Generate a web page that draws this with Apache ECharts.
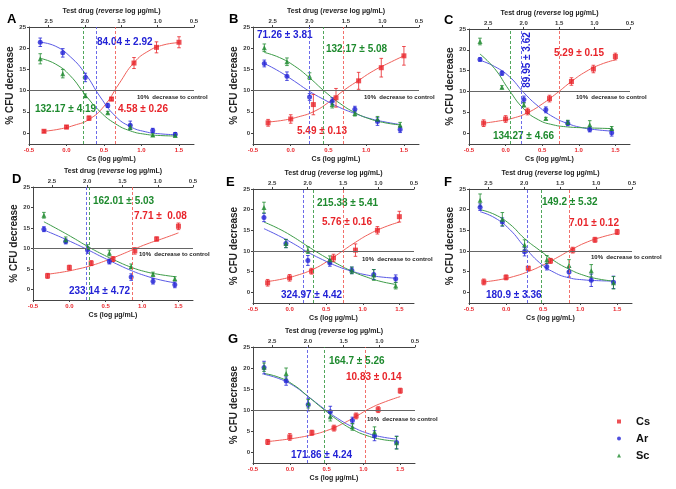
<!DOCTYPE html>
<html>
<head>
<meta charset="utf-8">
<script src="https://cdn.jsdelivr.net/npm/echarts@6/dist/echarts.min.js"></script>
<style>
  html, body { margin: 0; padding: 0; background: #fff; }
  #chart { width: 676px; height: 489px; }
</style>
</head>
<body>
<div id="chart"></div>
<script>
// 7 panels (A-G): % CFU decrease vs Cs / test drug concentration
var panelNames = ['A', 'B', 'C', 'D', 'E', 'F', 'G'];
var csX = [-0.3, 0, 0.3, 0.6, 0.9, 1.2, 1.5];
var drugX = [-0.35, -0.05, 0.25, 0.55, 0.85, 1.15, 1.45];
var csFitX = [-0.3, -0.1, 0.1, 0.3, 0.5, 0.7, 0.9, 1.1, 1.3, 1.5];
var drugFitX = [-0.35, -0.15, 0.05, 0.25, 0.45, 0.65, 0.85, 1.05, 1.25, 1.45];
var bottomTicks = [-0.5, 0, 0.5, 1.0, 1.5];
var topTicks = [2.5, 2.0, 1.5, 1.0, 0.5];
var yTicks = [0, 5, 10, 15, 20, 25];

var csMean = [
  [0.4, 1.4, 3.5, 8.0, 16.5, 20.2, 21.4],
  [2.4, 3.3, 6.7, 8.3, 12.3, 15.4, 18.2],
  [2.4, 3.4, 5.2, 8.3, 12.4, 15.4, 18.4],
  [3.3, 5.3, 6.4, 7.4, 9.4, 12.3, 15.4],
  [2.3, 3.5, 5.1, 8.3, 10.2, 15.0, 18.3],
  [2.5, 3.6, 5.8, 7.6, 10.2, 12.7, 14.6],
  [2.4, 3.6, 4.6, 5.7, 8.6, 10.1, 14.6]
];
var csErr = [
  [0.3, 0.4, 0.5, 0.4, 1.3, 1.3, 1.3],
  [0.8, 1.0, 2.4, 2.2, 2.0, 2.2, 2.2],
  [0.8, 0.8, 0.8, 0.8, 0.9, 0.9, 0.8],
  [0.6, 0.6, 0.6, 0.6, 0.8, 0.5, 0.8],
  [0.8, 0.8, 0.7, 0.9, 1.5, 0.9, 1.3],
  [0.7, 0.6, 0.5, 0.6, 0.7, 0.6, 0.6],
  [0.6, 0.8, 0.6, 0.7, 0.7, 0.7, 0.6]
];
var arMean = [
  [21.4, 18.9, 13.1, 6.5, 1.8, 0.6, -0.3],
  [16.4, 13.4, 8.5, 7.5, 5.6, 2.7, 0.8],
  [17.7, 14.4, 8.1, 5.6, 2.4, 0.9, 0.1],
  [14.7, 11.7, 9.6, 6.8, 3.0, 2.0, 1.1],
  [18.1, 11.8, 7.7, 7.1, 5.3, 4.3, 3.3],
  [20.6, 17.0, 9.8, 6.2, 4.9, 2.9, 2.4],
  [20.1, 16.9, 11.3, 9.6, 7.5, 3.9, 2.3]
];
var arErr = [
  [1.0, 1.0, 1.0, 0.5, 1.0, 0.5, 0.4],
  [0.8, 1.0, 0.8, 0.8, 0.7, 0.9, 0.7],
  [0.4, 0.5, 0.8, 0.7, 0.6, 0.6, 0.8],
  [0.6, 0.6, 0.8, 0.6, 0.8, 0.7, 0.7],
  [1.0, 1.0, 1.2, 0.8, 0.8, 1.2, 0.9],
  [0.8, 1.0, 1.0, 0.8, 1.2, 1.5, 1.5],
  [1.5, 1.0, 1.5, 1.3, 0.8, 1.2, 1.5]
];
var scMean = [
  [17.5, 14.0, 8.8, 4.8, 1.4, -0.5, -0.6],
  [20.1, 16.8, 13.4, 6.7, 4.6, 3.3, 1.9],
  [22.0, 11.0, 6.8, 3.5, 2.6, 2.0, 1.1],
  [18.1, 12.1, 10.3, 8.9, 5.6, 3.7, 2.6],
  [20.5, 11.8, 10.2, 7.9, 5.3, 4.2, 1.6],
  [22.3, 17.7, 11.5, 7.9, 6.5, 5.2, 2.3],
  [20.2, 18.7, 11.5, 8.4, 6.0, 4.8, 2.2]
];
var scErr = [
  [1.2, 1.0, 0.4, 0.3, 0.5, 0.3, 0.3],
  [0.9, 0.9, 0.8, 0.8, 0.6, 0.6, 0.6],
  [0.8, 0.4, 0.5, 0.3, 0.5, 1.0, 0.5],
  [0.7, 0.7, 0.6, 0.7, 0.6, 0.5, 0.5],
  [1.3, 1.0, 0.8, 0.9, 0.8, 1.3, 0.8],
  [1.5, 1.6, 1.2, 1.0, 1.4, 1.5, 1.5],
  [1.0, 1.3, 1.0, 1.0, 0.8, 1.2, 1.5]
];
// fitted curves
var csFit = [
  [0.4, 0.9, 1.8, 3.2, 6.3, 11.6, 16.6, 19.4, 20.8, 21.3],
  [2.6, 3.0, 3.8, 5.0, 7.2, 10.0, 12.4, 14.7, 16.5, 18.2],
  [2.4, 2.9, 3.6, 4.9, 7.0, 9.6, 12.4, 14.8, 16.5, 17.6],
  [3.7, 4.2, 4.9, 5.8, 7.0, 8.4, 9.9, 11.3, 12.5, 13.8],
  [2.6, 3.2, 4.1, 5.4, 7.3, 9.7, 12.1, 14.2, 15.8, 17.0],
  [2.5, 3.0, 3.8, 5.0, 6.6, 8.5, 10.5, 12.2, 13.4, 14.3],
  [2.5, 2.9, 3.4, 4.1, 5.1, 6.6, 8.5, 10.5, 12.0, 13.2]
];
var arFit = [
  [21.4, 20.5, 18.0, 14.0, 8.5, 4.0, 1.5, 0.3, -0.2, -0.4],
  [16.4, 14.5, 12.2, 9.8, 7.8, 6.0, 4.6, 3.4, 2.6, 2.0],
  [17.5, 16.0, 13.6, 9.7, 6.4, 3.9, 2.3, 1.3, 0.8, 0.5],
  [14.5, 13.0, 11.4, 9.7, 7.9, 6.2, 4.6, 3.3, 2.3, 1.6],
  [15.4, 13.7, 11.8, 9.7, 7.9, 6.3, 5.1, 4.2, 3.7, 3.4],
  [19.5, 18.0, 15.2, 11.0, 7.2, 4.8, 3.5, 3.0, 2.8, 2.7],
  [18.5, 17.5, 15.8, 13.2, 10.5, 8.0, 6.0, 4.5, 3.6, 3.1]
];
var scFit = [
  [17.6, 16.3, 13.5, 9.0, 5.0, 2.2, 0.5, -0.3, -0.6, -0.7],
  [19.0, 17.8, 15.8, 13.0, 9.8, 7.0, 4.8, 3.3, 2.4, 1.9],
  [19.0, 15.5, 10.3, 5.8, 3.2, 2.0, 1.5, 1.3, 1.2, 1.1],
  [16.5, 14.6, 12.6, 10.5, 8.6, 6.9, 5.4, 4.3, 3.6, 3.1],
  [17.0, 15.4, 13.4, 11.1, 8.9, 6.9, 5.1, 3.7, 2.6, 1.9],
  [20.0, 18.8, 16.5, 13.0, 10.2, 7.6, 5.6, 4.1, 3.2, 2.7],
  [18.7, 17.8, 16.0, 13.2, 10.3, 7.6, 5.4, 3.9, 3.0, 2.6]
];
// IC10 drop lines (on the Cs axis scale)
var csCut = [0.65, 0.70, 0.736, 0.874, 0.745, 0.851, 1.018];
var arCut = [0.39, 0.243, 0.218, 0.23, 0.18, 0.275, 0.245];
var scCut = [0.223, 0.43, 0.064, 0.276, 0.327, 0.473, 0.473];
var csIC = ['4.58 \u00b1 0.26', '5.49 \u00b1 0.13', '5.29 \u00b1 0.15', '7.71 \u00b1  0.08', '5.76 \u00b1 0.16', '7.01 \u00b1 0.12', '10.83 \u00b1 0.14'];
var arIC = ['84.04 \u00b1 2.92', '71.26 \u00b1 3.81', '89.95 \u00b1 3.62', '233.14 \u00b1 4.72', '324.97 \u00b1 4.42', '180.9 \u00b1 3.36', '171.86 \u00b1 4.24'];
var scIC = ['132.17 \u00b1 4.19', '132.17 \u00b1 5.08', '134.27 \u00b1 4.66', '162.01 \u00b1 5.03', '215.38 \u00b1 5.41', '149.2 \u00b1 5.32', '164.7 \u00b1 5.26'];

var FONT = '"Liberation Sans", Arial, sans-serif';
var RED = '#e8242a', BLUE = '#2323d6', GREEN = '#1e8a2e';

// grid rect + label positions per panel
var layout = [
  { rect: [29, 27, 165, 117], letter: [7, 19], cs: [118, 109], ar: [97, 42], sc: [35, 109], note: [137, 97] },
  { rect: [253, 27, 166, 117], letter: [229, 19], cs: [297, 131], ar: [257, 35], sc: [326, 49], note: [364, 97] },
  { rect: [469, 29, 161, 115], letter: [444, 20], cs: [554, 53], ar: [527, 60], sc: [493, 136], note: [576, 97], arVertical: true },
  { rect: [33, 187, 160, 113], letter: [12, 179], cs: [134, 216], ar: [69, 291], sc: [93, 201], note: [139, 254] },
  { rect: [253, 189, 161, 114], letter: [226, 182], cs: [322, 222], ar: [281, 295], sc: [317, 203], note: [362, 259] },
  { rect: [469, 189, 163, 114], letter: [444, 182], cs: [569, 223], ar: [486, 295], sc: [542, 202], note: [591, 257] },
  { rect: [253, 347, 162, 116], letter: [228, 339], cs: [346, 377], ar: [291, 455], sc: [329, 361], note: [367, 419] }
];

var grids = [], xAxes = [], yAxes = [], series = [], graphics = [];

function pairs(xs, ys) {
  return xs.map(function (x, i) { return [x, ys[i]]; });
}

function addGroup(gi, name, xs, mean, err, fitX, fit, cut, color, fitColor, symbol) {
  var bx = 2 * gi;
  series.push({
    type: 'line', xAxisIndex: bx, yAxisIndex: gi, data: pairs(fitX, fit),
    smooth: 0.5, showSymbol: false, silent: true, z: 2,
    lineStyle: { color: fitColor, width: 1 },
    markLine: {
      symbol: 'none', silent: true, label: { show: false },
      lineStyle: { color: fitColor, width: 0.9, type: [3, 2] },
      data: [{ xAxis: cut }]
    }
  });
  series.push({
    type: 'custom', xAxisIndex: bx, yAxisIndex: gi, silent: true, z: 3,
    data: xs.map(function (x, i) { return [x, mean[i] - err[i], mean[i] + err[i]]; }),
    encode: { x: 0, y: [1, 2] },
    renderItem: function (params, api) {
      var lo = api.coord([api.value(0), api.value(1)]);
      var hi = api.coord([api.value(0), api.value(2)]);
      var st = { stroke: color, lineWidth: 0.8 };
      return {
        type: 'group', children: [
          { type: 'line', shape: { x1: lo[0], y1: lo[1], x2: hi[0], y2: hi[1] }, style: st },
          { type: 'line', shape: { x1: lo[0] - 1.8, y1: lo[1], x2: lo[0] + 1.8, y2: lo[1] }, style: st },
          { type: 'line', shape: { x1: hi[0] - 1.8, y1: hi[1], x2: hi[0] + 1.8, y2: hi[1] }, style: st }
        ]
      };
    }
  });
  series.push({
    type: 'scatter', name: name, xAxisIndex: bx, yAxisIndex: gi, z: 4,
    data: pairs(xs, mean), symbol: symbol, symbolSize: 5,
    itemStyle: { color: color }
  });
}

function txt(x, y, s, color, size, extra) {
  var el = {
    type: 'text', x: x, y: y, silent: true,
    style: { text: s, fill: color, font: 'bold ' + size + 'px ' + FONT, textAlign: 'left', textVerticalAlign: 'middle' }
  };
  if (extra) {
    for (var k in extra) el[k] = extra[k];
  }
  return el;
}

layout.forEach(function (p, i) {
  grids.push({ left: p.rect[0], top: p.rect[1], width: p.rect[2], height: p.rect[3] });
  xAxes.push({
    type: 'value', gridIndex: i, position: 'bottom', min: -0.5, max: 1.7,
    axisLine: { onZero: false, lineStyle: { color: '#444', width: 1 } },
    axisTick: { customValues: bottomTicks, length: 2, lineStyle: { color: '#444' } },
    axisLabel: {
      customValues: bottomTicks, color: RED, fontSize: 6, fontWeight: 'bold', fontFamily: FONT, margin: 3,
      formatter: function (v) { return v.toFixed(1); }
    },
    splitLine: { show: false },
    name: 'Cs (log \u00b5g/mL)', nameLocation: 'middle', nameGap: 12,
    nameTextStyle: { fontSize: 7, fontWeight: 'bold', color: '#222', fontFamily: FONT }
  });
  xAxes.push({
    type: 'value', gridIndex: i, position: 'top', min: 0.5, max: 2.77, inverse: true,
    axisLine: { onZero: false, lineStyle: { color: '#444', width: 1 } },
    axisTick: { customValues: topTicks, length: 2, lineStyle: { color: '#444' } },
    axisLabel: {
      customValues: topTicks, color: '#333', fontSize: 6, fontWeight: 'bold', fontFamily: FONT, margin: 3,
      formatter: function (v) { return v.toFixed(1); }
    },
    splitLine: { show: false },
    name: '{a|Test drug (}{b|reverse}{a| log \u00b5g/mL)}', nameLocation: 'middle', nameGap: 12,
    nameTextStyle: {
      rich: {
        a: { fontSize: 7, fontWeight: 'bold', color: '#222', fontFamily: FONT },
        b: { fontSize: 7, fontWeight: 'bold', fontStyle: 'italic', color: '#222', fontFamily: FONT }
      }
    }
  });
  yAxes.push({
    type: 'value', gridIndex: i, min: -2.6, max: 25,
    axisLine: { show: true, onZero: false, lineStyle: { color: '#444', width: 1 } },
    axisTick: { show: true, customValues: yTicks, length: 2, lineStyle: { color: '#444' } },
    axisLabel: { customValues: yTicks, color: '#333', fontSize: 6, fontWeight: 'bold', fontFamily: FONT, margin: 3 },
    splitLine: { show: false },
    name: '% CFU decrease', nameLocation: 'middle', nameGap: 11,
    nameTextStyle: { fontSize: 10, fontWeight: 'bold', color: '#222', fontFamily: FONT }
  });

  // 10% reference line
  series.push({
    type: 'line', xAxisIndex: 2 * i, yAxisIndex: i, data: [], silent: true,
    markLine: {
      symbol: 'none', silent: true, label: { show: false },
      lineStyle: { color: '#666', width: 1, type: 'solid' },
      data: [{ yAxis: 10 }]
    }
  });
  addGroup(i, 'Cs', csX, csMean[i], csErr[i], csFitX, csFit[i], csCut[i], RED, '#f0605a', 'rect');
  addGroup(i, 'Ar', drugX, arMean[i], arErr[i], drugFitX, arFit[i], arCut[i], BLUE, '#5a5ae6', 'circle');
  addGroup(i, 'Sc', drugX, scMean[i], scErr[i], drugFitX, scFit[i], scCut[i], GREEN, '#3d9c48', 'triangle');

  graphics.push(txt(p.letter[0], p.letter[1], panelNames[i], '#000', 13));
  graphics.push(txt(p.note[0], p.note[1], '10%  decrease to control', '#222', 6));
  graphics.push(txt(p.cs[0], p.cs[1], csIC[i], RED, 10));
  graphics.push(txt(p.sc[0], p.sc[1], scIC[i], GREEN, 10));
  if (p.arVertical) {
    var el = txt(p.ar[0], p.ar[1], arIC[i], BLUE, 10, { rotation: Math.PI / 2 });
    el.style.textAlign = 'center';
    graphics.push(el);
  } else {
    graphics.push(txt(p.ar[0], p.ar[1], arIC[i], BLUE, 10));
  }
});

var chart = echarts.init(document.getElementById('chart'), null, { renderer: 'canvas' });
chart.setOption({
  animation: false,
  backgroundColor: '#fff',
  textStyle: { fontFamily: FONT },
  grid: grids,
  xAxis: xAxes,
  yAxis: yAxes,
  legend: {
    orient: 'vertical', left: 612, top: 411, itemWidth: 4, itemHeight: 4, itemGap: 6,
    data: [{ name: 'Cs', icon: 'rect' }, { name: 'Ar', icon: 'circle' }, { name: 'Sc', icon: 'triangle' }],
    textStyle: { fontSize: 11, fontWeight: 'bold', color: '#111', fontFamily: FONT, padding: [0, 0, 0, 10] }
  },
  graphic: graphics,
  series: series
});
</script>
</body>
</html>
